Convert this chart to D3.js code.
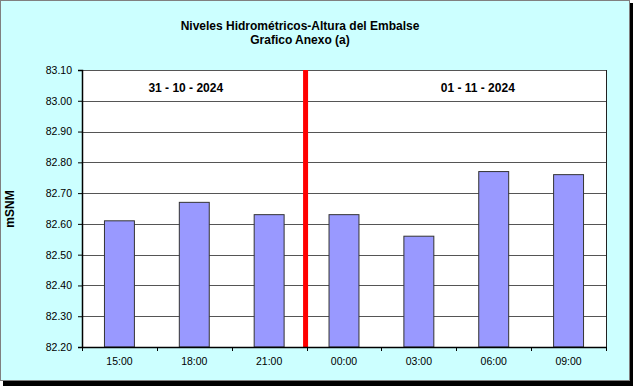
<!DOCTYPE html>
<html>
<head>
<meta charset="utf-8">
<script src="https://cdn.jsdelivr.net/npm/d3@7"></script>
<style>
  body { margin: 0; background: #fff; }
  svg { display: block; font-family: "Liberation Sans", Arial, sans-serif; }
</style>
</head>
<body>
<svg id="svg" width="633" height="386"></svg>
<script>
// chart data
const hours = ["15:00", "18:00", "21:00", "00:00", "03:00", "06:00", "09:00"];
const levels = [82.61, 82.67, 82.63, 82.63, 82.56, 82.77, 82.76];
const yTicks = [82.2, 82.3, 82.4, 82.5, 82.6, 82.7, 82.8, 82.9, 83.0, 83.1];
const dayLabels = ["31 - 10 - 2024", "01 - 11 - 2024"];
const dayFirstHour = ["15:00", "00:00"];
const titleLines = ["Niveles Hidrométricos-Altura del Embalse", "Grafico Anexo (a)"];

const svg = d3.select("#svg");
const margin = { left: 82, right: 27, top: 70, bottom: 39 };
const width = 633, height = 386;

// frame + shadow
svg.append("rect").attr("x", 3).attr("y", 3).attr("width", 630).attr("height", 383).attr("fill", "#000");
svg.append("rect")
  .attr("x", 0.5).attr("y", 0.5)
  .attr("width", 629).attr("height", 380)
  .attr("fill", "#ccffff")
  .attr("stroke", "#808080");

const x = d3.scaleBand()
  .domain(hours)
  .range([margin.left, width - margin.right])
  .paddingInner(0.6)
  .paddingOuter(0.3);

const y = d3.scaleLinear()
  .domain([82.2, 83.1])
  .range([height - margin.bottom, margin.top]);

// plot area
svg.append("rect")
  .attr("x", margin.left).attr("y", margin.top)
  .attr("width", width - margin.right - margin.left)
  .attr("height", y(82.2) - y(83.1))
  .attr("fill", "#fff");

// gridlines
svg.append("g")
  .selectAll("line")
  .data(yTicks.slice(1))
  .join("line")
  .attr("x1", margin.left).attr("x2", width - margin.right)
  .attr("y1", d => Math.round(y(d)) + 0.5).attr("y2", d => Math.round(y(d)) + 0.5)
  .attr("stroke", "#555")
  .attr("stroke-width", 1.2);

// bars
svg.append("g")
  .selectAll("rect")
  .data(levels)
  .join("rect")
  .attr("x", (d, i) => x(hours[i]))
  .attr("y", d => y(d))
  .attr("width", x.bandwidth())
  .attr("height", d => y(82.2) - y(d))
  .attr("fill", "#9999ff")
  .attr("stroke", "#333")
  .attr("stroke-width", 1);

// day divider (between 21:00 and 00:00)
const divX = x(dayFirstHour[1]) - x.step() * x.paddingInner() / 2 - 1;
svg.append("line")
  .attr("x1", divX).attr("x2", divX)
  .attr("y1", y(83.1)).attr("y2", y(82.2))
  .attr("stroke", "#ff0000")
  .attr("stroke-width", 5);

// right border of plot
svg.append("line")
  .attr("x1", width - margin.right + 0.5).attr("x2", width - margin.right + 0.5)
  .attr("y1", y(83.1)).attr("y2", y(82.2))
  .attr("stroke", "#222");

// y axis
const yAxis = svg.append("g")
  .attr("transform", `translate(${margin.left},0)`)
  .call(d3.axisLeft(y).tickValues(yTicks).tickFormat(d3.format(".2f")).tickSize(4).tickPadding(6));
yAxis.select(".domain").attr("stroke", "#000").attr("stroke-width", 1.5);
yAxis.selectAll(".tick line").attr("stroke", "#000");
yAxis.selectAll("text").attr("font-size", 10.5).attr("fill", "#000").attr("font-family", "Liberation Sans, Arial");

// x axis with ticks at band edges
const xAxis = svg.append("g")
  .attr("transform", `translate(0,${y(82.2)})`)
  .call(d3.axisBottom(x).tickSize(0).tickPadding(11));
xAxis.select(".domain").attr("stroke", "#000").attr("stroke-width", 1.5);
xAxis.selectAll("text").attr("font-size", 10.5).attr("fill", "#000").attr("font-family", "Liberation Sans, Arial");
const edges = hours.map(h => x(h) - x.step() * x.paddingInner() / 2);
edges.push(width - margin.right);
xAxis.selectAll(".edge")
  .data(edges)
  .join("line")
  .attr("class", "edge")
  .attr("x1", d => Math.round(d) + 0.5).attr("x2", d => Math.round(d) + 0.5)
  .attr("y1", 0).attr("y2", 4)
  .attr("stroke", "#000");

// day labels
const dayCenters = [
  (margin.left + divX) / 2 - 8,
  (divX + width - margin.right) / 2 + 22
];
svg.append("g")
  .selectAll("text")
  .data(dayLabels)
  .join("text")
  .attr("x", (d, i) => dayCenters[i])
  .attr("y", 92)
  .attr("text-anchor", "middle")
  .attr("font-size", 12)
  .attr("font-weight", "bold")
  .text(d => d);

// title
svg.append("g")
  .selectAll("text")
  .data(titleLines)
  .join("text")
  .attr("x", 300)
  .attr("y", (d, i) => 30 + i * 14)
  .attr("text-anchor", "middle")
  .attr("font-size", 12)
  .attr("font-weight", "bold")
  .text(d => d);

// y label
svg.append("text")
  .attr("transform", "translate(14,209) rotate(-90)")
  .attr("text-anchor", "middle")
  .attr("font-size", 12)
  .attr("font-weight", "bold")
  .text("mSNM");
</script>
</body>
</html>
